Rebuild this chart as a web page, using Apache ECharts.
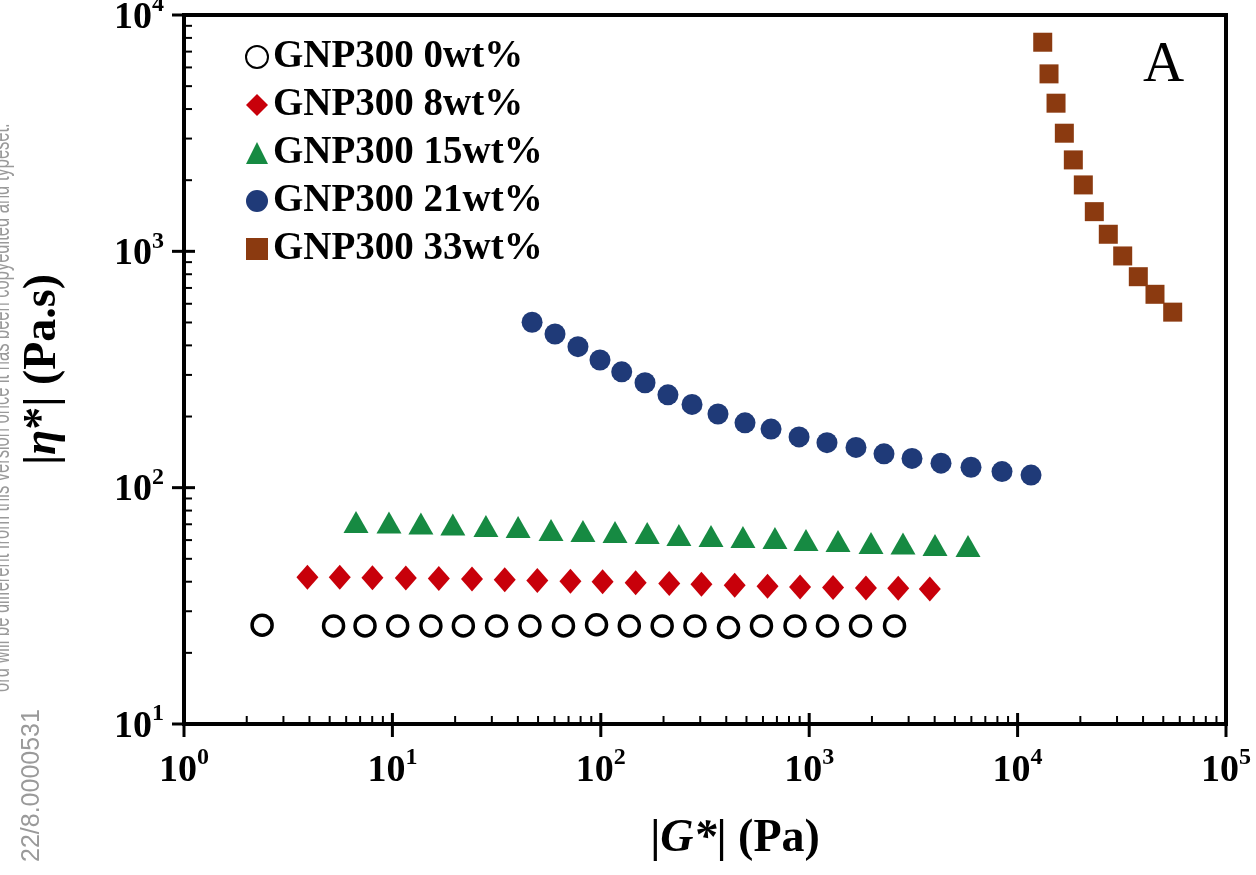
<!DOCTYPE html>
<html>
<head>
<meta charset="utf-8">
<script src="https://cdn.jsdelivr.net/npm/echarts@6/dist/echarts.min.js"></script>
<style>
    html, body { margin: 0; padding: 0; background: #fff; }
    #chartDiv { width: 1256px; height: 875px; }
</style>
</head>
<body>
<div id="chartDiv"></div>
<script>
    // |G*| (Pa) and |eta*| (Pa.s), one pair of arrays per sample
    var g0 = [2.37, 5.22, 7.39, 10.6, 15.3, 21.9, 31.6, 45.7, 66.2, 95.4, 137, 197, 283, 410, 590, 855, 1224, 1763, 2567];
    var eta0 = [26.2, 26.0, 26.0, 26.0, 26.0, 26.0, 26.0, 26.0, 26.0, 26.3, 26.0, 26.0, 26.0, 25.6, 26.0, 26.0, 26.0, 26.0, 26.0];

    var g8 = [3.91, 5.59, 8.02, 11.6, 16.7, 24.1, 34.6, 49.6, 71.5, 102, 147, 213, 304, 439, 631, 904, 1302, 1872, 2674, 3791];
    var eta8 = [41.8, 41.8, 41.6, 41.5, 41.3, 41.1, 40.8, 40.5, 40.2, 40.0, 39.6, 39.3, 39.0, 38.6, 38.3, 38.0, 37.8, 37.6, 37.5, 37.3];

    var g15 = [6.69, 9.63, 13.7, 19.5, 28.1, 40.1, 57.7, 82.1, 117, 167, 237, 338, 481, 685, 965, 1375, 1980, 2819, 4015, 5781];
    var eta15 = [71.6, 71.2, 70.6, 69.8, 68.8, 68.2, 66.2, 65.6, 64.9, 64.3, 63.1, 62.5, 61.9, 61.3, 60.1, 59.5, 58.3, 58.0, 57.2, 56.7];

    var g21 = [46.8, 60.3, 77.7, 99.1, 126, 163, 210, 274, 365, 492, 656, 894, 1217, 1677, 2285, 3114, 4290, 5976, 8417, 11600];
    var eta21 = [501, 447, 395, 347, 309, 278, 247, 225, 205, 188, 177, 164, 155, 148, 139, 133, 127, 122, 117, 113];

    var g33 = [13200, 14150, 15290, 16760, 18510, 20670, 23340, 27240, 31940, 37950, 45630, 55490];
    var eta33 = [7670, 5635, 4235, 3161, 2437, 1910, 1472, 1181, 956, 781, 658, 553];

    var names = ['GNP300 0wt%', 'GNP300 8wt%', 'GNP300 15wt%', 'GNP300 21wt%', 'GNP300 33wt%'];

    // decades of the two log axes, used for tick labels and tick marks
    var xDecades = [1, 10, 100, 1000, 10000, 100000];
    var yDecades = [10, 100, 1000, 10000];

    var serif = "'Liberation Serif', 'Times New Roman', serif";
    var sans = "'Liberation Sans', Arial, sans-serif";

    function pairs(xs, ys) {
        var out = [];
        for (var i = 0; i < xs.length; i++) {
            out.push([xs[i], ys[i]]);
        }
        return out;
    }

    // tick list: majors at every decade, minors at 2..9 inside each decade
    function tickList(decades) {
        var out = [];
        for (var i = 0; i < decades.length; i++) {
            out.push({ v: decades[i], major: 1 });
            if (i < decades.length - 1) {
                for (var m = 2; m <= 9; m++) {
                    out.push({ v: m * decades[i], major: 0 });
                }
            }
        }
        return out;
    }

    var xTickData = tickList(xDecades).map(function (t) { return [t.v, 10, t.major]; });
    var yTickData = tickList(yDecades).map(function (t) { return [1, t.v, t.major]; });

    function powLabel(value) {
        var e = Math.round(Math.log(value) / Math.LN10);
        return '{b|10}{s|' + e + '}';
    }

    var labelRich = {
        b: { fontFamily: serif, fontWeight: 'bold', fontSize: 38, color: '#000', lineHeight: 44, verticalAlign: 'bottom' },
        s: { fontFamily: serif, fontWeight: 'bold', fontSize: 24, color: '#000', lineHeight: 44, verticalAlign: 'top' }
    };

    var titleRich = {
        n: { fontFamily: serif, fontWeight: 'bold', fontSize: 46, color: '#000' },
        i: { fontFamily: serif, fontWeight: 'bold', fontStyle: 'italic', fontSize: 46, color: '#000' }
    };

    var chart = echarts.init(document.getElementById('chartDiv'));

    var option = {
        backgroundColor: '#fff',
        animation: false,
        grid: {
            left: 184, right: 30, top: 15, bottom: 151,
            outerBoundsMode: 'none',
            containLabel: false,
            show: true, borderColor: '#000', borderWidth: 4
        },
        legend: {
            orient: 'vertical',
            left: 240,
            top: 31,
            itemWidth: 22,
            itemHeight: 22,
            itemGap: 6,
            itemTextGap: 8,
            data: names,
            textStyle: { fontFamily: serif, fontWeight: 'bold', fontSize: 39, color: '#000', lineHeight: 42 }
        },
        xAxis: {
            type: 'log',
            logBase: 10,
            min: 1,
            max: 100000,
            name: '{n||}{i|G*}{n|| (Pa)}',
            nameLocation: 'middle',
            nameGap: 92,
            nameTextStyle: { padding: [0, 0, 0, 60], rich: titleRich },
            axisLine: { lineStyle: { color: '#000', width: 4 } },
            axisTick: { show: false },
            splitLine: { show: false },
            axisLabel: { margin: 22, formatter: powLabel, rich: labelRich }
        },
        yAxis: {
            type: 'log',
            logBase: 10,
            min: 10,
            max: 10000,
            name: '{n||}{i|η}{n|*| (Pa.s)}',
            nameLocation: 'middle',
            nameGap: 118,
            nameTextStyle: { rich: titleRich },
            axisLine: { lineStyle: { color: '#000', width: 4 } },
            axisTick: { show: false },
            splitLine: { show: false },
            axisLabel: { margin: 20, formatter: powLabel, rich: labelRich }
        },
        graphic: [
            {
                type: 'text', left: 1143, top: 38, silent: true,
                style: { text: 'A', fontFamily: serif, fontSize: 57, fill: '#000' }
            },
            {
                type: 'text', x: 15, y: 692, rotation: Math.PI / 2, scaleX: 0.635, silent: true,
                style: {
                    text: 'ord will be different from this version once it has been copyedited and typeset.',
                    fontFamily: sans, fontSize: 26, fill: '#9a9a9a',
                    verticalAlign: 'bottom'
                }
            },
            {
                type: 'text', x: 45, y: 862, rotation: Math.PI / 2, silent: true,
                style: {
                    text: '22/8.0000531',
                    fontFamily: sans, fontSize: 25, fill: '#9a9a9a',
                    verticalAlign: 'bottom'
                }
            }
        ],
        series: [
            {
                name: names[0], type: 'scatter', symbol: 'circle', symbolSize: 20,
                itemStyle: { color: '#fff', borderColor: '#000', borderWidth: 3.5, opacity: 1 },
                data: pairs(g0, eta0)
            },
            {
                name: names[1], type: 'scatter', symbol: 'diamond', symbolSize: [22, 25],
                itemStyle: { color: '#c8000a', opacity: 1 },
                data: pairs(g8, eta8)
            },
            {
                name: names[2], type: 'scatter', symbol: 'triangle', symbolSize: [25, 22],
                itemStyle: { color: '#168a42', opacity: 1 },
                data: pairs(g15, eta15)
            },
            {
                name: names[3], type: 'scatter', symbol: 'circle', symbolSize: 21,
                itemStyle: { color: '#1f3a78', opacity: 1 },
                data: pairs(g21, eta21)
            },
            {
                name: names[4], type: 'scatter', symbol: 'rect', symbolSize: 19,
                itemStyle: { color: '#8b3a10', opacity: 1 },
                data: pairs(g33, eta33)
            },
            {
                // x axis ticks: majors cross the axis line, minors point inward
                type: 'custom', clip: false, silent: true, z: 10,
                encode: { x: 0, y: 1 },
                data: xTickData,
                renderItem: function (params, api) {
                    var p = api.coord([api.value(0), 10]);
                    var major = api.value(2) === 1;
                    return {
                        type: 'line',
                        shape: { x1: p[0], y1: p[1] + (major ? 13 : 0), x2: p[0], y2: p[1] - (major ? 11 : 8) },
                        style: { stroke: '#000', lineWidth: major ? 3 : 2 }
                    };
                }
            },
            {
                type: 'custom', clip: false, silent: true, z: 10,
                encode: { x: 0, y: 1 },
                data: yTickData,
                renderItem: function (params, api) {
                    var p = api.coord([1, api.value(1)]);
                    var major = api.value(2) === 1;
                    return {
                        type: 'line',
                        shape: { x1: p[0] - (major ? 12 : 0), y1: p[1], x2: p[0] + (major ? 11 : 8), y2: p[1] },
                        style: { stroke: '#000', lineWidth: major ? 3 : 2 }
                    };
                }
            }
        ]
    };

    chart.setOption(option);
</script>
</body>
</html>
